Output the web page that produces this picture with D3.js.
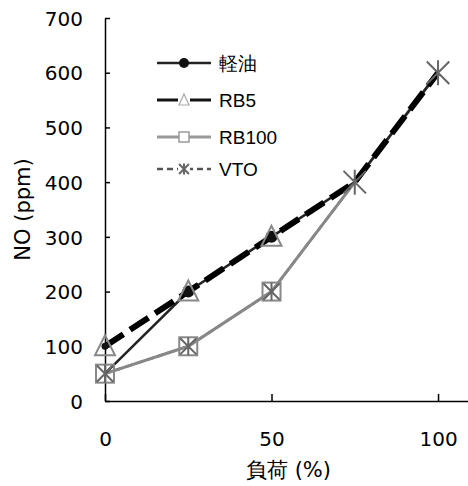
<!DOCTYPE html>
<html>
<head>
<meta charset="utf-8">
<script src="https://cdn.jsdelivr.net/npm/d3@7"></script>
<style>
  body { margin: 0; background: #fff; }
  svg { display: block; }
</style>
</head>
<body>
<div id="chart"></div>
<script>
// load (%) and NO (ppm)
const loads = [0, 25, 50, 75, 100];
const diesel = [50, 200, 300, 400, 600];
const dieselMarks = [100, 200, 300];
const rb5 = [100, 200, 300, 400, 600];
const rb5Marks = [100, 200, 300];
const rb100 = [50, 100, 200, 400, 600];
const rb100Marks = [50, 100, 200];
const vto = [50, 100, 200, 400, 600];
const yTicks = [0, 100, 200, 300, 400, 500, 600, 700];
const xTicks = [0, 50, 100];
const legendNames = ["軽油", "RB5", "RB100", "VTO"];

const W = 468, H = 486;
const margin = {top: 18, right: 0, bottom: 85, left: 105};

const svg = d3.select("#chart").append("svg")
    .attr("width", W)
    .attr("height", H);

const x = d3.scaleLinear().domain([0, 109]).range([margin.left, W - margin.right]);
const y = d3.scaleLinear().domain([0, 700]).range([H - margin.bottom, margin.top]);

const font = "'DejaVu Sans', Verdana, sans-serif";

// axes
const yAxis = d3.axisLeft(y).tickValues(yTicks).tickSize(-5).tickPadding(22).tickSizeOuter(0);
const xAxis = d3.axisBottom(x).tickValues(xTicks).tickSize(-7).tickPadding(31).tickSizeOuter(0);

const gy = svg.append("g").attr("transform", `translate(${margin.left},0)`).call(yAxis);
const gx = svg.append("g").attr("transform", `translate(0,${y(0)})`).call(xAxis);
[gx, gy].forEach(g => {
    g.selectAll("path, line").attr("stroke", "#000").attr("stroke-width", 1.5);
    g.selectAll("text").attr("font-family", font).attr("font-size", 20).attr("fill", "#000");
});
gy.selectAll("text").attr("dy", "0.36em");

svg.append("text")
    .attr("transform", `translate(30,${(y(0) + y(700)) / 2}) rotate(-90)`)
    .attr("text-anchor", "middle")
    .attr("font-family", font).attr("font-size", 21)
    .text("NO (ppm)");

svg.append("text")
    .attr("x", x(50) + 17).attr("y", 477)
    .attr("text-anchor", "middle")
    .attr("font-family", font).attr("font-size", 21)
    .text("負荷 (%)");

const line = d3.line().x((d, i) => x(loads[i])).y(d => y(d));

// lines
svg.append("path").datum(vto).attr("d", line)
    .attr("fill", "none").attr("stroke", "#555").attr("stroke-width", 2.5)
    .attr("stroke-dasharray", "7,4");
svg.append("path").datum(rb100).attr("d", line)
    .attr("fill", "none").attr("stroke", "#888").attr("stroke-width", 3);
svg.append("path").datum(diesel).attr("d", line)
    .attr("fill", "none").attr("stroke", "#222").attr("stroke-width", 2.5);
svg.append("path").datum(rb5).attr("d", line)
    .attr("fill", "none").attr("stroke", "#000").attr("stroke-width", 6)
    .attr("stroke-dasharray", "22,8");

// markers
function circleMark(g, cx, cy, r) {
    g.append("circle").attr("cx", cx).attr("cy", cy).attr("r", r).attr("fill", "#111");
}
function triMark(g, cx, cy, s) {
    const h = s * 0.9;
    g.append("path")
        .attr("d", `M${cx},${cy - h / 2 - 2}L${cx + s / 2},${cy + h / 2}L${cx - s / 2},${cy + h / 2}Z`)
        .attr("fill", "none").attr("stroke", "#888").attr("stroke-width", 2);
}
function sqMark(g, cx, cy, s) {
    g.append("rect").attr("x", cx - s / 2).attr("y", cy - s / 2)
        .attr("width", s).attr("height", s)
        .attr("fill", "none").attr("stroke", "#888").attr("stroke-width", 2);
}
function starMark(g, cx, cy, s) {
    const a = s / 2, b = s * 0.45;
    g.append("path")
        .attr("d", `M${cx},${cy - a}V${cy + a}M${cx - b},${cy - b}L${cx + b},${cy + b}M${cx + b},${cy - b}L${cx - b},${cy + b}`)
        .attr("fill", "none").attr("stroke", "#666").attr("stroke-width", 2);
}

const marks = svg.append("g");
dieselMarks.forEach((v, i) => circleMark(marks, x(loads[i]), y(v), i === 0 ? 3.5 : 6));
rb5Marks.forEach((v, i) => triMark(marks, x(loads[i]), y(v), 20));
rb100Marks.forEach((v, i) => sqMark(marks, x(loads[i]), y(v), 18));
vto.forEach((v, i) => starMark(marks, x(loads[i]), y(v), i > 2 ? 25 : 18));

// legend
const lg = svg.append("g");
lg.append("rect").attr("x", 145).attr("y", 38).attr("width", 128).attr("height", 150)
    .attr("fill", "#fff");
const rows = [63, 100, 137, 169];
const lx0 = 157, lx1 = 211, lxm = (lx0 + lx1) / 2;
const styles = [
    {stroke: "#222", w: 2.5, dash: null},
    {stroke: "#111", w: 3, dash: null},
    {stroke: "#999", w: 3, dash: null},
    {stroke: "#555", w: 2.5, dash: "6,4"}
];
legendNames.forEach((n, i) => {
    const s = styles[i];
    const ln = lg.append("line").attr("x1", lx0).attr("x2", lx1)
        .attr("y1", rows[i]).attr("y2", rows[i])
        .attr("stroke", s.stroke).attr("stroke-width", s.w);
    if (s.dash) ln.attr("stroke-dasharray", s.dash);
    lg.append("text").attr("x", 219).attr("y", rows[i]).attr("dy", "0.36em")
        .attr("font-family", "'Liberation Sans', Arial, sans-serif").attr("font-size", 19)
        .text(n);
});
circleMark(lg, lxm, rows[0], 5);
lg.append("rect").attr("x", lxm - 6).attr("y", rows[1] - 6).attr("width", 12).attr("height", 12).attr("fill", "#fff");
lg.append("path").attr("d", `M${lxm},${rows[1] - 6}L${lxm + 5},${rows[1] + 5}L${lxm - 5},${rows[1] + 5}Z`)
    .attr("fill", "none").attr("stroke", "#aaa").attr("stroke-width", 1.2);
lg.append("rect").attr("x", lxm - 5).attr("y", rows[2] - 5).attr("width", 10).attr("height", 10)
    .attr("fill", "#fff").attr("stroke", "#999").attr("stroke-width", 1.5);
lg.append("rect").attr("x", lxm - 6).attr("y", rows[3] - 6).attr("width", 12).attr("height", 12).attr("fill", "#fff");
starMark(lg, lxm, rows[3], 11);
</script>
</body>
</html>
